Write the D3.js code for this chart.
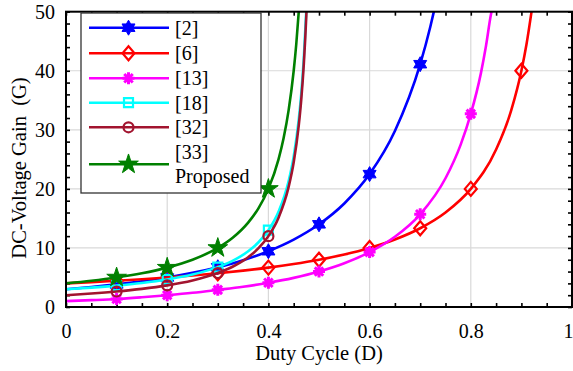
<!DOCTYPE html>
<html>
<head>
<meta charset="utf-8">
<script src="https://cdn.jsdelivr.net/npm/d3@7"></script>
<style>
  html, body { margin: 0; padding: 0; background: #fff; }
  svg { display: block; }
</style>
</head>
<body>
<svg id="chart" width="573" height="371"></svg>
<script>
// Duty cycle samples and voltage gain of each converter
const dutyB = [0, 0.05, 0.1, 0.15, 0.2, 0.25, 0.3, 0.35, 0.4, 0.45, 0.5, 0.55, 0.6, 0.65, 0.7, 0.72, 0.727];
const gainB = [3, 3.38, 3.827, 4.36, 5, 5.778, 6.735, 7.929, 9.444, 11.405, 14, 17.531, 22.5, 29.796, 41.111, 47.45, 50.01];

const dutyR = [0, 0.05, 0.1, 0.15, 0.2, 0.25, 0.3, 0.35, 0.4, 0.45, 0.5, 0.55, 0.6, 0.65, 0.7, 0.75, 0.8, 0.85, 0.88, 0.9, 0.91, 0.92];
const gainR = [4, 4.211, 4.444, 4.706, 5, 5.333, 5.714, 6.154, 6.667, 7.273, 8, 8.889, 10, 11.429, 13.333, 16, 20, 26.667, 33.333, 40, 44.444, 50];

const dutyM = [0, 0.05, 0.1, 0.15, 0.2, 0.25, 0.3, 0.35, 0.4, 0.45, 0.5, 0.55, 0.6, 0.65, 0.7, 0.75, 0.78, 0.8, 0.82, 0.83, 0.84, 0.842];
const gainM = [1, 1.16, 1.35, 1.65, 2.0, 2.4, 2.9, 3.43, 4.1, 4.93, 6.0, 7.4, 9.3, 11.9, 15.7, 21.8, 27.5, 32.7, 39.6, 44.2, 49.6, 50.4];

const dutyC = [0, 0.05, 0.1, 0.15, 0.2, 0.25, 0.3, 0.33, 0.36, 0.38, 0.4, 0.42, 0.44, 0.45, 0.46, 0.465, 0.47, 0.475];
const gainC = [3, 3.278, 3.625, 4.071, 4.667, 5.5, 6.75, 7.853, 9.429, 10.917, 13, 16.125, 21.333, 25.5, 31.75, 36.21, 42.17, 50.5];

const dutyW = [0, 0.05, 0.1, 0.15, 0.2, 0.25, 0.3, 0.33, 0.36, 0.38, 0.4, 0.42, 0.44, 0.45, 0.46, 0.465, 0.47, 0.475, 0.476];
const gainW = [2, 2.278, 2.625, 3.071, 3.667, 4.5, 5.75, 6.853, 8.429, 9.917, 12, 15.125, 20.333, 24.5, 30.75, 35.21, 41.17, 49.5, 51.6];

const dutyG = [0, 0.05, 0.1, 0.15, 0.2, 0.25, 0.3, 0.33, 0.36, 0.38, 0.4, 0.42, 0.43, 0.44, 0.45, 0.455, 0.46];
const gainG = [4, 4.444, 5, 5.714, 6.667, 8, 10, 11.765, 14.286, 16.667, 20, 25, 28.571, 33.333, 40, 44.444, 50];

// Marker positions (every 0.1 of duty cycle)
const markB = [[0.1, 3.827], [0.2, 5], [0.3, 6.735], [0.4, 9.444], [0.5, 14], [0.6, 22.5], [0.7, 41.111]];
const markR = [[0.1, 4.444], [0.2, 5], [0.3, 5.714], [0.4, 6.667], [0.5, 8], [0.6, 10], [0.7, 13.333], [0.8, 20], [0.9, 40]];
const markM = [[0.1, 1.35], [0.2, 2.0], [0.3, 2.9], [0.4, 4.1], [0.5, 6.0], [0.6, 9.3], [0.7, 15.7], [0.8, 32.7]];
const markC = [[0.1, 3.625], [0.2, 4.667], [0.3, 6.75], [0.4, 13]];
const markW = [[0.1, 2.625], [0.2, 3.667], [0.3, 5.75], [0.4, 12]];
const markG = [[0.1, 5], [0.2, 6.667], [0.3, 10], [0.4, 20]];

const seriesNames = ["[2]", "[6]", "[13]", "[18]", "[32]", "[33]\nProposed"];

const xTicks = [0, 0.2, 0.4, 0.6, 0.8, 1];
const xTickLabels = ["0", "0.2", "0.4", "0.6", "0.8", "1"];
const yTicks = [0, 10, 20, 30, 40, 50];
const yTickLabels = ["0", "10", "20", "30", "40", "50"];

const series = [
  { name: seriesNames[0], color: "#0000ff", shape: "hexagram", x: dutyB, y: gainB, marks: markB },
  { name: seriesNames[1], color: "#ff0000", shape: "diamond",  x: dutyR, y: gainR, marks: markR },
  { name: seriesNames[2], color: "#ff00ff", shape: "asterisk", x: dutyM, y: gainM, marks: markM },
  { name: seriesNames[3], color: "#00ffff", shape: "square",   x: dutyC, y: gainC, marks: markC },
  { name: seriesNames[4], color: "#a2142f", shape: "circle",   x: dutyW, y: gainW, marks: markW },
  { name: seriesNames[5], color: "#008000", shape: "pentagram", x: dutyG, y: gainG, marks: markG }
];

const FONT = '"Liberation Serif", "Times New Roman", serif';
const svg = d3.select("#chart");
const L = 66, R = 572, T = 11.7, B = 307;

const x = d3.scaleLinear().domain([0, 1]).range([L, R]);
const y = d3.scaleLinear().domain([0, 50]).range([B, T]);

// Grid lines at major ticks
const grid = svg.append("g").attr("stroke", "#d9d9d9").attr("stroke-width", 1.2);
xTicks.slice(1, -1).forEach(v => grid.append("line")
  .attr("x1", x(v)).attr("x2", x(v)).attr("y1", y(0)).attr("y2", y(50)));
yTicks.slice(1, -1).forEach(v => grid.append("line")
  .attr("x1", x(0)).attr("x2", x(1)).attr("y1", y(v)).attr("y2", y(v)));

// Inward ticks on all four sides
const minorX = d3.range(0, 1.0001, 0.05);
const minorY = d3.range(0, 50.001, 2);
const axisBottom = d3.axisBottom(x).tickValues(minorX).tickSize(-4).tickFormat("");
const axisTop = d3.axisTop(x).tickValues(minorX).tickSize(-4).tickFormat("");
const axisLeft = d3.axisLeft(y).tickValues(minorY).tickSize(-4).tickFormat("");
const axisRight = d3.axisRight(y).tickValues(minorY).tickSize(-4).tickFormat("");
[[axisBottom, `translate(0,${B})`], [axisTop, `translate(0,${T})`],
 [axisLeft, `translate(${L},0)`], [axisRight, `translate(${R},0)`]].forEach(([ax, tr]) => {
  const g = svg.append("g").attr("transform", tr).call(ax);
  g.select(".domain").remove();
  g.selectAll(".tick line").attr("stroke", "#000").attr("stroke-width", 1.6);
});

// Tick labels
const xl = d3.axisBottom(x).tickValues(xTicks).tickSize(0).tickPadding(17)
  .tickFormat((d, i) => xTickLabels[i]);
const gxl = svg.append("g").attr("transform", `translate(0,${B})`).call(xl)
  .attr("font-family", FONT).attr("font-size", 20);
gxl.select(".domain").remove();
gxl.selectAll("text").attr("fill", "#000")
  .attr("dx", d => (d === 1 ? -4 : 0)); // keep the last label inside the canvas

const yl = d3.axisLeft(y).tickValues(yTicks).tickSize(0).tickPadding(11)
  .tickFormat((d, i) => yTickLabels[i]);
const gyl = svg.append("g").attr("transform", `translate(${L},0)`).call(yl)
  .attr("font-family", FONT).attr("font-size", 20);
gyl.select(".domain").remove();
gyl.selectAll("text").attr("fill", "#000");

// Clip for curves
svg.append("clipPath").attr("id", "plotClip").append("rect")
  .attr("x", L).attr("y", T).attr("width", R - L).attr("height", B - T);

// Marker shapes
function markerPath(shape) {
  if (shape === "hexagram") {
    const r = 7.5, p = [];
    for (let k = 0; k < 12; k++) {
      const a = -Math.PI / 2 + k * Math.PI / 6;
      const rr = k % 2 === 0 ? r : r * 0.577;
      p.push([rr * Math.cos(a), rr * Math.sin(a)]);
    }
    return "M" + p.map(q => q.join(",")).join("L") + "Z";
  }
  if (shape === "diamond") return "M0,-7L6,0L0,7L-6,0Z";
  if (shape === "square") return "M-4.5,-4.5H4.5V4.5H-4.5Z";
  if (shape === "circle") return d3.symbol(d3.symbolCircle, Math.PI * 25)();
  if (shape === "pentagram") return d3.symbol(d3.symbolStar, 120)();
  if (shape === "asterisk") {
    const r = 6, parts = [];
    for (let k = 0; k < 4; k++) {
      const a = k * Math.PI / 4;
      parts.push(`M${-r * Math.cos(a)},${-r * Math.sin(a)}L${r * Math.cos(a)},${r * Math.sin(a)}`);
    }
    return parts.join("");
  }
}
function markerStyle(sel, s) {
  const filled = s.shape === "hexagram" || s.shape === "pentagram";
  sel.attr("d", markerPath(s.shape))
    .attr("fill", filled ? s.color : "none")
    .attr("stroke", s.color)
    .attr("stroke-width", s.shape === "asterisk" ? 3 : (filled ? 1 : 2.2))
    .attr("stroke-linejoin", "miter");
}

const line = d3.line().x(d => x(d[0])).y(d => y(d[1])).curve(d3.curveMonotoneX);

const plot = svg.append("g").attr("clip-path", "url(#plotClip)");
series.forEach(s => {
  const pts = s.x.map((v, i) => [v, s.y[i]]);
  plot.append("path").datum(pts).attr("d", line)
    .attr("fill", "none").attr("stroke", s.color).attr("stroke-width", 2.6);
  plot.selectAll(null).data(s.marks).enter().append("path")
    .attr("transform", d => `translate(${x(d[0])},${y(d[1])})`)
    .call(markerStyle, s);
});

// Frame
svg.append("rect").attr("x", L).attr("y", T).attr("width", R - L).attr("height", B - T)
  .attr("fill", "none").attr("stroke", "#000").attr("stroke-width", 2);

// Axis titles
svg.append("text").attr("x", (L + R) / 2).attr("y", 360).attr("text-anchor", "middle")
  .attr("font-family", FONT).attr("font-size", 20.5).text("Duty Cycle (D)");
svg.append("text").attr("transform", `translate(26,168) rotate(-90)`)
  .attr("text-anchor", "middle").attr("font-family", FONT).attr("font-size", 20.5)
  .style("white-space", "pre").text("DC-Voltage Gain  (G)");

// Legend
const leg = svg.append("g").attr("font-family", FONT);
leg.append("rect").attr("x", 81).attr("y", 13).attr("width", 180).attr("height", 180)
  .attr("fill", "#fff").attr("stroke", "#333").attr("stroke-width", 1.3);
const legY = [27.7, 53.3, 78.3, 102.7, 127.3, 164.3];
series.forEach((s, i) => {
  const ly = legY[i];
  leg.append("line").attr("x1", 89).attr("x2", 169).attr("y1", ly).attr("y2", ly)
    .attr("stroke", s.color).attr("stroke-width", 2.6);
  leg.append("path").attr("transform", `translate(128.5,${ly})`).call(markerStyle, s);
  const lines = s.name.split("\n");
  lines.forEach((t, j) => {
    leg.append("text").attr("x", 175)
      .attr("y", ly + (j - (lines.length - 1) / 2) * 24).attr("dy", "0.35em")
      .attr("font-size", 20).text(t);
  });
});
</script>
</body>
</html>
